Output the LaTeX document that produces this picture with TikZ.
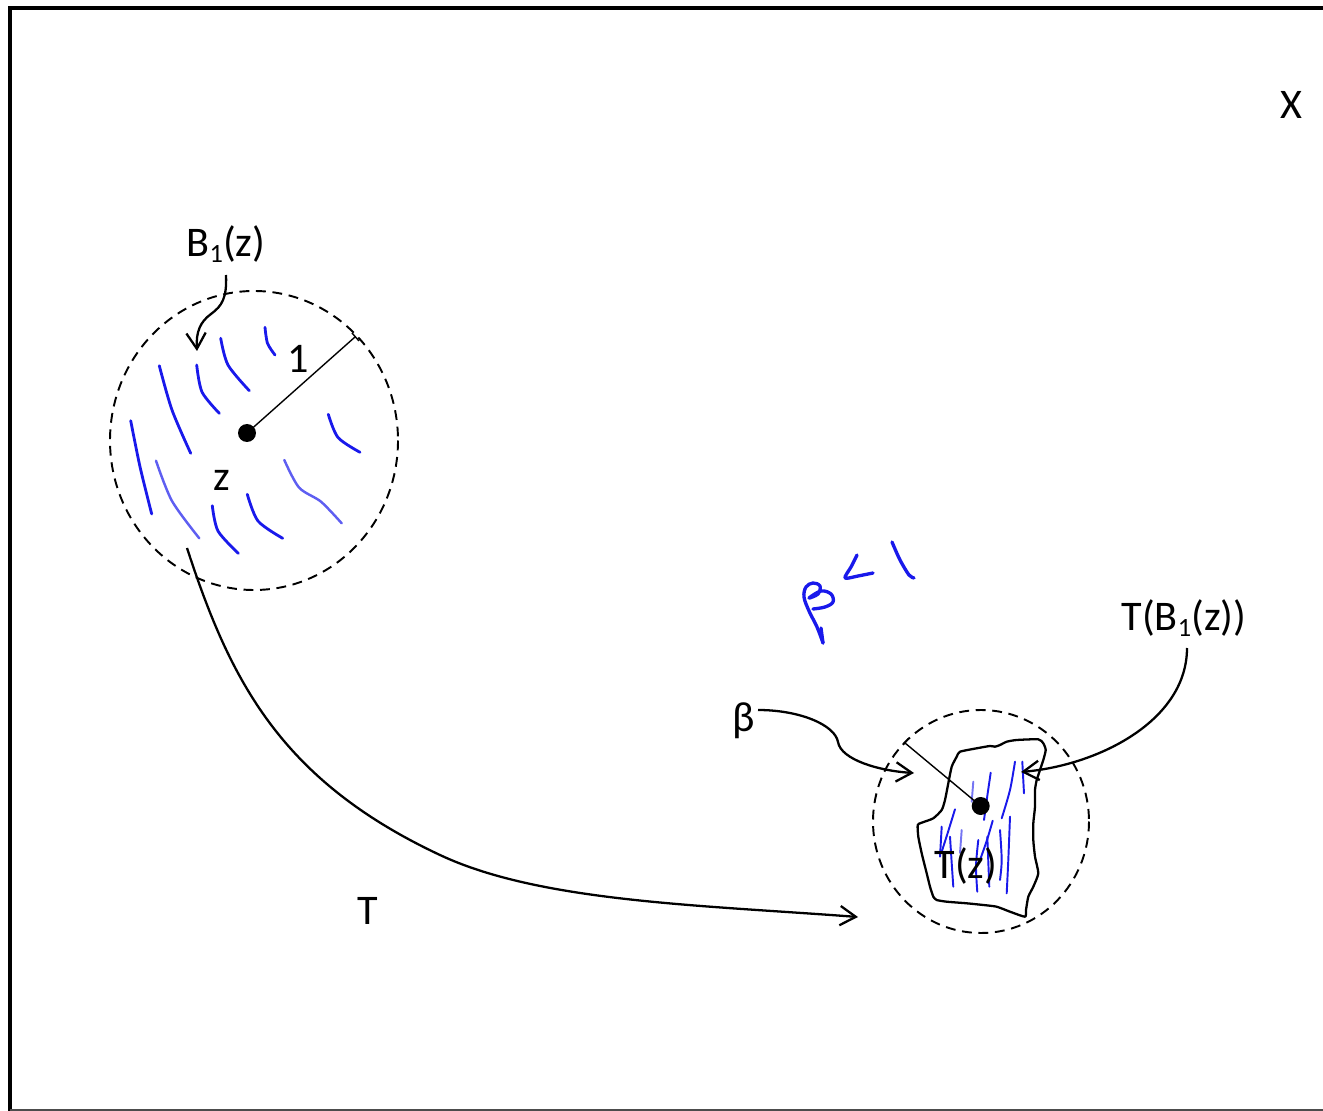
\documentclass[tikz,border=0pt]{standalone}
\usepackage{fontspec}
\setmainfont{Carlito}
\usetikzlibrary{arrows.meta}
\definecolor{hand}{RGB}{25,25,235}
\newcommand\subone{\raisebox{-0.12em}{\fontsize{15pt}{15pt}\selectfont 1}}
\begin{document}
\begin{tikzpicture}[x=0.02cm,y=-0.02cm,
  lbl/.style={font=\fontsize{24pt}{28pt}\selectfont, inner sep=0pt, anchor=base},
  dashcirc/.style={line width=1.1pt, dash pattern=on 5.6pt off 3.8pt},
  conn/.style={line width=1.3pt, -{Straight Barb[length=9pt,width=11pt]}},
  rad/.style={line width=0.8pt},
  hatch/.style={draw=hand, line width=1.6pt, line cap=round},
  hatchlt/.style={draw=hand!70, line width=1.4pt, line cap=round},
  pen/.style={draw=hand, line width=1.9pt, line cap=round, line join=round},
  fine/.style={draw=hand, line width=1.1pt, line cap=round},
  finelt/.style={draw=hand!60, line width=1.1pt, line cap=round},
  dot/.style={circle, fill=black, inner sep=0pt, minimum size=0.36cm}]
\useasboundingbox (0,0) rectangle (1323,1111);
% frame
\draw[line width=2.3pt] (10.3,1111) -- (10.3,7.8) -- (1323,7.8);
\draw[black!70, line width=1.1pt] (10,1110) -- (1323,1110);

% ---- left ball ----
\draw[dashcirc] (254,440.5) ellipse [x radius=144, y radius=149.5];
% hatching
\draw[hatch] plot[smooth] coordinates {(265,327.3) (267.5,343.3) (275,355)};
\draw[hatch] plot[smooth] coordinates {(220.7,338.3) (228,365) (249.3,390.7)};
\draw[hatch] plot[smooth] coordinates {(196.7,365) (202,392) (219.3,413.3)};
\draw[hatch] plot[smooth] coordinates {(159.3,365.7) (172,410) (190.7,453.3)};
\draw[hatch] plot[smooth] coordinates {(130.7,420.7) (140,466.7) (151.7,514)};
\draw[hatchlt] plot[smooth] coordinates {(156,460.7) (172,501) (199.3,538.3)};
\draw[hatch] plot[smooth] coordinates {(212.3,505.7) (218,531) (238.3,553.3)};
\draw[hatch] plot[smooth] coordinates {(247.3,494.3) (258,521) (282.7,538.3)};
\draw[hatchlt] plot[smooth] coordinates {(284.3,460) (299,487.5) (321,501.7) (341.7,523.3)};
\draw[hatch] plot[smooth] coordinates {(328.3,414.3) (338,437.5) (360,452.3)};

\node[dot] (z) at (247,433) {};
\coordinate (r1) at (355,337);
\draw[rad] (z.center) -- (r1);
\draw[rad] ([shift={(-3,-4)}]r1) -- ([shift={(4,4)}]r1);

\node[lbl] (B) at (226,257) {B\subone(z)};
\node[lbl] (one) at (298,373) {1};
\node[lbl] (zl) at (222,491) {z};
\coordinate (bs) at (226,275);
\coordinate (bt) at (197,351);
\draw[conn] (bs) .. controls (227,298) and (222,306) .. (211,314) .. controls (200,322) and (196,332) .. (bt);

% ---- map T ----
\coordinate (ts) at (187,548);
\coordinate (te) at (858,917);
\draw[conn] (ts) .. controls (230,680) and (280,780) .. (440,855) .. controls (540,902) and (700,905) .. (te);
\node[lbl] (Tl) at (368,924) {T};

% ---- right image ----
\draw[dashcirc] (981,821.5) ellipse [x radius=108, y radius=111.5];
\draw[line width=1.3pt, line join=round] plot[smooth cycle, tension=0.35] coordinates {
 (960,751.7) (976.7,748.3) (990,746) (995,746.7) (1000,745) (1006.7,741.7) (1016.7,740)
 (1038.3,739.3) (1043.3,743.3) (1045.7,750) (1043.3,760) (1040,770) (1036.7,780) (1035,790)
 (1035,806.7) (1033.3,823.3) (1033.3,840) (1035,856.7) (1038.3,873.3) (1033.3,886.7)
 (1028.3,896.7) (1026,910) (1025,916.7) (1010,911.7) (996.7,906.7) (983.3,905) (966.7,903.3)
 (946.7,901.7) (936.7,900) (933.3,896.7) (930,886.7) (926.7,873.3) (921.7,853.3) (918.3,836.7)
 (917.7,825) (921.7,822.7) (933.3,818.3) (941.7,810) (945,800) (948.3,783.3) (951.7,766.7) (956.7,756.7)};
% hatching in image
\draw[finelt] (973.3,781.7) -- (971.7,801.7);
\draw[fine] plot[smooth] coordinates {(990.7,772.7) (987.3,796) (984,820)};
\draw[fine] plot[smooth] coordinates {(1015,761.7) (1010,790) (1001.7,818.3)};
\draw[fine] (1022.3,761.7) -- (1024,793.3);
\draw[fine] plot[smooth] coordinates {(955,809.3) (948,832) (941.7,851.7)};
\draw[fine] (941.7,826.7) -- (940,856.7);
\draw[fine] plot[smooth] coordinates {(950,836.7) (951.7,863) (953.3,886.7)};
\draw[fine] plot[smooth] coordinates {(992.7,820.7) (987,840) (980,860)};
\draw[fine] (987.3,836.7) -- (989.3,886.7);
\draw[fine] plot[smooth] coordinates {(978.3,840) (976,866) (977.3,891.7)};
\draw[fine] plot[smooth] coordinates {(1000,830) (1001.7,860) (1000,880)};
\draw[fine] plot[smooth] coordinates {(1010,816.7) (1008.3,860) (1006.7,893.3)};
\draw[finelt] (961.7,830) -- (960,853);

\node[dot] (tz) at (980.7,806) {};
\coordinate (r2) at (905,743);
\draw[rad] (tz.center) -- (r2);
\draw[rad] ([shift={(-2,2)}]r2) -- ([shift={(4,-5)}]r2);
\node[lbl] (Tz) at (966,878) {T(z)};

\node[lbl] (beta) at (744,731) {β};
\coordinate (bes) at (758,710);
\coordinate (bee) at (914,773);
\draw[conn] (bes) .. controls (800,710) and (835,725) .. (838,742) .. controls (841,760) and (880,771) .. (bee);

\node[lbl] (TB) at (1184,631) {T(B\subone(z))};
\coordinate (tbs) at (1187,648);
\coordinate (tbe) at (1021,772);
\draw[conn] (tbs) .. controls (1187,720) and (1100,765) .. (tbe);

% handwritten beta < 1
\draw[pen] plot[smooth, tension=0.6] coordinates {(823,643) (817,627) (809,611) (804,597) (806,587) (813,583) (820,586) (818,594) (809,598) (821,591) (831,594) (833,602) (825,607) (813,609)};
\draw[pen] (821,628) -- (823,643);
\draw[pen] plot[smooth] coordinates {(857,555) (851,567) (845,578) (858,576) (873,573)};
\draw[pen] plot[smooth] coordinates {(892,542) (900,560) (909,575) (914,578)};

\node[lbl] (X) at (1291,119) {X};
\end{tikzpicture}
\end{document}
